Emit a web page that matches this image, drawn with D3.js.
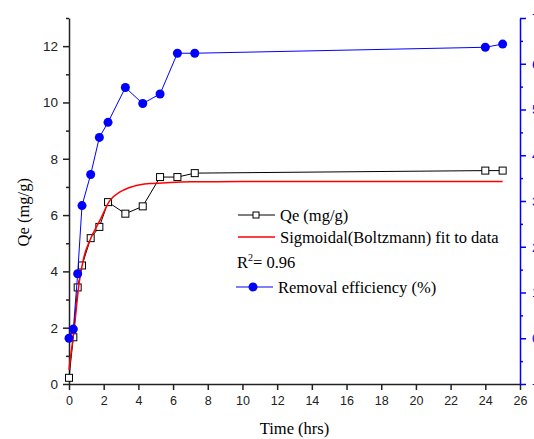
<!DOCTYPE html>
<html>
<head>
<meta charset="utf-8">
<script src="https://cdn.jsdelivr.net/npm/d3@7"></script>
<style>
  body { margin: 0; background: #fff; }
  svg { display: block; }
</style>
</head>
<body>
<svg id="chart" width="534" height="439"></svg>
<script>
// данные
const timeHrs = [0, 0.25, 0.5, 0.75, 1.25, 1.75, 2.25, 3.25, 4.25, 5.25, 6.25, 7.25, 24, 25];
const qeValues = [0.22, 1.66, 3.43, 4.21, 5.18, 5.58, 6.46, 6.05, 6.31, 7.35, 7.35, 7.49, 7.58, 7.58];
const removalValues = [0, 2.0, 14.1, 29.0, 35.8, 43.9, 47.2, 54.8, 51.3, 53.4, 62.3, 62.3, 63.6, 64.3];
// кривая аппроксимации (Boltzmann), точки
const fitTime = [0, 0.1, 0.29, 0.58, 0.86, 1.2, 1.79, 2.36, 2.94, 3.71, 4.67, 5.63, 7, 10, 25];
const fitQe = [0.5, 1.0, 1.91, 3.57, 4.51, 5.1, 5.82, 6.52, 6.82, 7.02, 7.12, 7.15, 7.18, 7.19, 7.19];
const xTicks = d3.range(0, 27, 2);
const yLeftTicks = [0, 2, 4, 6, 8, 10, 12];
const yRightTicks = [-10, 0, 10, 20, 30, 40, 50, 60, 70];

const margin = { left: 69, right: 14, top: 18, bottom: 55 };
const width = 534, height = 439;
const svg = d3.select('#chart');

const x = d3.scaleLinear().domain([0, 26]).range([margin.left, width - margin.right]);
const yL = d3.scaleLinear().domain([0, 13]).range([height - margin.bottom, margin.top]);
const yR = d3.scaleLinear().domain([-10, 70]).range([height - margin.bottom, margin.top]);

// Ось X
const xAxis = svg.append('g')
    .attr('transform', `translate(0,${yL(0)})`)
    .call(d3.axisBottom(x).tickValues(xTicks).tickSize(6).tickSizeOuter(0).tickPadding(6));
xAxis.selectAll('text').style('font', '12.5px "Liberation Sans", Arial, sans-serif').attr('fill', '#222');

// Левая ось
const yAxis = svg.append('g')
    .attr('transform', `translate(${margin.left},0)`)
    .call(d3.axisLeft(yL).tickValues(yLeftTicks).tickSize(6).tickSizeOuter(0).tickPadding(5));
yAxis.selectAll('text').style('font', '13.5px "Liberation Sans", Arial, sans-serif').attr('fill', '#222');
yAxis.append('g')
    .call(d3.axisLeft(yL).tickValues(d3.range(1, 14, 2)).tickSize(3).tickFormat(''))
    .select('.domain').remove();

// Правая ось (синяя)
const rAxis = svg.append('g')
    .attr('transform', `translate(${width - margin.right},0)`)
    .call(d3.axisRight(yR).tickValues(yRightTicks).tickSize(6).tickSizeOuter(0).tickPadding(6));
rAxis.selectAll('text').style('font', '13.5px "Liberation Sans", Arial, sans-serif');
rAxis.append('g')
    .call(d3.axisRight(yR).tickValues(d3.range(-5, 70, 10)).tickSize(3).tickFormat(''))
    .select('.domain').remove();
rAxis.selectAll('line, path').attr('stroke', '#0000ff').attr('stroke-width', 1.5);
rAxis.selectAll('text').attr('fill', '#0000ff');
[xAxis, yAxis].forEach(a => a.selectAll('line, path').attr('stroke', '#222').attr('stroke-width', 1.5));

// Подписи осей
const titleFont = '16.5px "Liberation Serif", "Times New Roman", serif';
svg.append('text')
    .attr('x', x(13)).attr('y', 434)
    .attr('text-anchor', 'middle')
    .style('font', titleFont)
    .text('Time (hrs)');
svg.append('text')
    .attr('transform', `translate(29,${yL(6.1)}) rotate(-90)`)
    .attr('text-anchor', 'middle')
    .style('font', titleFont)
    .text('Qe (mg/g)');

const qeData = timeHrs.map((t, i) => ({ t, v: qeValues[i] }));
const remData = timeHrs.map((t, i) => ({ t, v: removalValues[i] }));
const fitData = fitTime.map((t, i) => ({ t, v: fitQe[i] }));

// Qe — чёрная линия с квадратами
svg.append('path')
    .datum(qeData)
    .attr('fill', 'none').attr('stroke', '#000').attr('stroke-width', 1)
    .attr('d', d3.line().x(d => x(d.t)).y(d => yL(d.v)));
svg.selectAll('.sq')
    .data(qeData).enter().append('rect')
    .attr('class', 'sq')
    .attr('x', d => x(d.t) - 3.5).attr('y', d => yL(d.v) - 3.5)
    .attr('width', 7).attr('height', 7)
    .attr('fill', '#fff').attr('stroke', '#000').attr('stroke-width', 1);

// Аппроксимация — красная
svg.append('path')
    .datum(fitData)
    .attr('fill', 'none').attr('stroke', '#ff0000').attr('stroke-width', 1.5)
    .attr('d', d3.line().curve(d3.curveMonotoneX).x(d => x(d.t)).y(d => yL(d.v)));

// Эффективность удаления — синяя
svg.append('path')
    .datum(remData)
    .attr('fill', 'none').attr('stroke', '#0000ff').attr('stroke-width', 1)
    .attr('d', d3.line().x(d => x(d.t)).y(d => yR(d.v)));
svg.selectAll('.dot')
    .data(remData).enter().append('circle')
    .attr('class', 'dot')
    .attr('cx', d => x(d.t)).attr('cy', d => yR(d.v))
    .attr('r', 4.5).attr('fill', '#0000ff');

// Легенда
const legendFont = '16.5px "Liberation Serif", "Times New Roman", serif';
const lg = svg.append('g');
lg.append('line').attr('x1', 238).attr('x2', 275).attr('y1', 215).attr('y2', 215).attr('stroke', '#000');
lg.append('rect').attr('x', 253).attr('y', 212).attr('width', 6).attr('height', 6)
    .attr('fill', '#fff').attr('stroke', '#000');
lg.append('text').attr('x', 280).attr('y', 221).style('font', legendFont).text('Qe (mg/g)');
lg.append('line').attr('x1', 238).attr('x2', 275).attr('y1', 237).attr('y2', 237)
    .attr('stroke', '#ff0000').attr('stroke-width', 1.5);
lg.append('text').attr('x', 280).attr('y', 243).style('font', legendFont).text('Sigmoidal(Boltzmann) fit to data');
const r2 = lg.append('text').attr('x', 237).attr('y', 268).style('font', legendFont);
r2.append('tspan').text('R');
r2.append('tspan').attr('dy', -7).style('font-size', '10px').text('2');
r2.append('tspan').attr('dy', 7).text('= 0.96');
lg.append('line').attr('x1', 236).attr('x2', 273).attr('y1', 287).attr('y2', 287).attr('stroke', '#0000ff');
lg.append('circle').attr('cx', 253).attr('cy', 287).attr('r', 4.5).attr('fill', '#0000ff');
lg.append('text').attr('x', 278).attr('y', 293).style('font', legendFont).text('Removal efficiency (%)');
</script>
</body>
</html>
